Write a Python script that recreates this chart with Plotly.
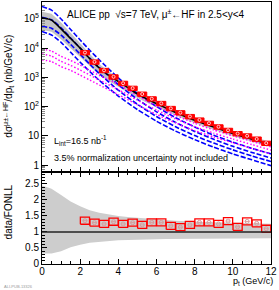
import plotly.graph_objects as go

# ---------------- data ----------------
pt_bins = [2.25, 2.75, 3.25, 3.75, 4.25, 4.75, 5.25, 5.75, 6.25, 6.75,
           7.25, 7.75, 8.25, 8.75, 9.25, 9.75, 10.25, 10.75, 11.25, 11.75]
bin_halfwidth = 0.24
data_xsec = [7079, 3388, 1738, 1047, 631, 427, 269, 186, 129, 87,
             62, 46, 35, 27, 20.4, 15.5, 12.0, 10.0, 7.8, 5.6]
data_syst_rel = [0.17, 0.17, 0.17, 0.17, 0.17, 0.17, 0.17, 0.17, 0.17, 0.17,
                 0.17, 0.17, 0.17, 0.17, 0.17, 0.17, 0.17, 0.17, 0.17, 0.17]
ratio = [1.35, 1.29, 1.25, 1.32, 1.25, 1.29, 1.22, 1.30, 1.30, 1.19,
         1.15, 1.22, 1.30, 1.30, 1.25, 1.34, 1.16, 1.33, 1.27, 1.10]
ratio_syst = [0.11, 0.11, 0.11, 0.11, 0.11, 0.11, 0.11, 0.11, 0.11, 0.11,
              0.11, 0.11, 0.11, 0.11, 0.11, 0.11, 0.11, 0.11, 0.11, 0.11]

pt_fonll = [0, 0.5, 1, 1.5, 2, 2.5, 3, 3.5, 4, 4.5, 5, 5.5, 6, 6.5, 7, 7.5,
            8, 8.5, 9, 9.5, 10, 10.5, 11, 11.5, 12]
fonll_central = [109600, 91200, 45700, 21400, 10000, 4365, 2090, 1175, 724, 447,
                 269, 182, 126, 89, 63, 45.7, 33.9, 25.7, 20.0, 15.5,
                 12.0, 9.55, 7.59, 6.17, 5.01]
fonll_hi = [177800, 151400, 75900, 33900, 14800, 6310, 2880, 1585, 955, 575,
            347, 234, 158, 112, 79.4, 57.5, 41.7, 31.6, 24.5, 19.1,
            14.8, 11.7, 9.33, 7.59, 6.17]
fonll_lo = [41700, 36300, 20000, 10000, 5010, 2400, 1230, 741, 479, 309,
            195, 135, 95.5, 69.2, 50.1, 37.2, 27.5, 20.9, 16.2, 12.6,
            9.77, 7.76, 6.17, 5.01, 4.07]
ratio_band_hi = [2.45, 2.35, 2.15, 1.95, 1.80, 1.68, 1.60, 1.54, 1.50, 1.47,
                 1.44, 1.41, 1.39, 1.37, 1.35, 1.33, 1.32, 1.31, 1.30, 1.29,
                 1.28, 1.27, 1.27, 1.26, 1.26]
ratio_band_lo = [0.33, 0.33, 0.40, 0.52, 0.60, 0.66, 0.70, 0.72, 0.74, 0.75,
                 0.76, 0.77, 0.77, 0.78, 0.78, 0.78, 0.79, 0.79, 0.79, 0.80,
                 0.80, 0.80, 0.80, 0.80, 0.80]

pt_comp = [0, 0.5, 1, 1.5, 2, 2.5, 3, 4, 5, 6, 7, 8, 9, 10, 11, 12]
charm_curves = [
    [269000, 200000, 100000, 43600, 19100, 8510, 3980, 955, 282, 100, 41.7, 20.0, 10.5, 6.03, 3.72, 2.40],
    [115000, 93300, 50100, 22400, 10000, 4570, 2190, 562, 178, 66.1, 28.8, 14.1, 7.59, 4.37, 2.69, 1.74],
    [56200, 47900, 28200, 13500, 6170, 2820, 1350, 363, 120, 45.7, 20.4, 10.2, 5.62, 3.31, 2.04, 1.32],
    [37200, 28200, 15800, 7240, 3310, 1585, 794, 229, 79.4, 31.6, 14.5, 7.41, 4.07, 2.40, 1.51, 0.95],
]
beauty_curves = [
    [9330, 7940, 5250, 3800, 2630, 1740, 1175, 575, 240, 105, 50.1, 26.9, 15.8, 10.0, 6.46, 4.17],
    [6310, 5370, 3550, 2570, 1780, 1200, 813, 380, 166, 75.9, 38.0, 20.4, 12.3, 7.76, 5.01, 3.24],
    [3980, 3470, 2340, 1740, 1200, 813, 550, 257, 115, 53.7, 27.5, 15.1, 9.12, 5.75, 3.72, 2.40],
]

y_tickvals = [1, 10, 100, 1000, 10000, 100000]
y_ticktext = ["1", "10", "10<sup>2</sup>", "10<sup>3</sup>", "10<sup>4</sup>", "10<sup>5</sup>"]

FONT = "Liberation Sans, Arial, sans-serif"

fig = go.Figure()

# ---------------- top panel ----------------
fig.add_trace(go.Scatter(x=pt_fonll + pt_fonll[::-1], y=fonll_hi + fonll_lo[::-1],
                         fill="toself", fillcolor="#c4c4c4", line=dict(width=0),
                         mode="lines", xaxis="x", yaxis="y", hoverinfo="skip"))
for c in charm_curves:
    fig.add_trace(go.Scatter(x=pt_comp, y=c, mode="lines",
                             line=dict(color="#0000ff", width=1.6, dash="5px,2px", shape="spline", smoothing=0.5),
                             xaxis="x", yaxis="y"))
for c in beauty_curves:
    fig.add_trace(go.Scatter(x=pt_comp, y=c, mode="lines",
                             line=dict(color="#ff00ff", width=1.4, dash="1.5px,2px", shape="spline", smoothing=0.5),
                             xaxis="x", yaxis="y"))
fig.add_trace(go.Scatter(x=pt_fonll, y=fonll_central, mode="lines",
                         line=dict(color="black", width=1.6, shape="spline", smoothing=0.5),
                         xaxis="x", yaxis="y"))

bx, by = [], []
for p, v, s in zip(pt_bins, data_xsec, data_syst_rel):
    lo, hi = v * (1 - s), v * (1 + s)
    bx += [p - bin_halfwidth, p + bin_halfwidth, p + bin_halfwidth, p - bin_halfwidth, p - bin_halfwidth, None]
    by += [lo, lo, hi, hi, lo, None]
fig.add_trace(go.Scatter(x=bx, y=by, fill="toself", fillcolor="#ff0000",
                         line=dict(color="#ff0000", width=1), mode="lines",
                         xaxis="x", yaxis="y"))
fig.add_trace(go.Scatter(x=pt_bins, y=data_xsec, mode="markers",
                         marker=dict(symbol="circle-open", size=3, color="#ffd0d0", line=dict(width=1)),
                         xaxis="x", yaxis="y"))

# ---------------- bottom panel ----------------
fig.add_trace(go.Scatter(x=pt_fonll + pt_fonll[::-1], y=ratio_band_hi + ratio_band_lo[::-1],
                         fill="toself", fillcolor="#cdcdcd", line=dict(width=0),
                         mode="lines", xaxis="x2", yaxis="y2", hoverinfo="skip"))
rx, ry = [], []
for p, v, s in zip(pt_bins, ratio, ratio_syst):
    rx += [p - bin_halfwidth, p + bin_halfwidth, p + bin_halfwidth, p - bin_halfwidth, p - bin_halfwidth, None]
    ry += [v - s, v - s, v + s, v + s, v - s, None]
fig.add_trace(go.Scatter(x=rx, y=ry, mode="lines", line=dict(color="#ff0000", width=1.3),
                         xaxis="x2", yaxis="y2"))
fig.add_trace(go.Scatter(x=pt_bins, y=ratio, mode="markers",
                         marker=dict(symbol="circle-open", size=4, color="#d89a9a", line=dict(width=1)),
                         error_x=dict(type="constant", value=0.12, color="#d89a9a", thickness=1, width=0),
                         xaxis="x2", yaxis="y2"))

fig.add_shape(type="line", xref="x2 domain", yref="y2", x0=0, x1=1, y0=1, y1=1,
              line=dict(color="#222222", width=1.6))

axis_common = dict(showgrid=False, zeroline=False, linecolor="black", linewidth=1,
                   ticks="inside", tickcolor="black",
                   tickfont=dict(family=FONT, size=10, color="black"))

split = 0.351
fig.update_layout(
    width=279, height=290,
    margin=dict(l=42, r=8, t=2, b=26),
    paper_bgcolor="white", plot_bgcolor="white",
    showlegend=False,
    hovermode=False,
    xaxis=dict(domain=[0, 1], anchor="y", range=[0, 12], showticklabels=False,
               dtick=2, ticklen=5, mirror=True,
               minor=dict(dtick=0.5, ticklen=3, ticks="inside", tickcolor="black"), **axis_common),
    yaxis=dict(domain=[split, 1], anchor="x", type="log", range=[-0.24, 5.58],
               tickvals=y_tickvals, ticktext=y_ticktext, ticklen=6, mirror=True,
               minor=dict(ticks="inside", ticklen=3, tickcolor="#888888", dtick="D1"), **axis_common),
    xaxis2=dict(domain=[0, 1], anchor="y2", range=[0, 12], dtick=2, ticklen=5, mirror="ticks",
                ticklabelstandoff=-2,
                minor=dict(dtick=0.5, ticklen=3, ticks="inside", tickcolor="black"), **axis_common),
    yaxis2=dict(domain=[0, split], anchor="x2", range=[0, 2.87], dtick=0.5, ticklen=5, mirror=True,
                minor=dict(dtick=0.1, ticklen=3, ticks="inside", tickcolor="black"), **axis_common),
)

fig.add_annotation(xref="paper", yref="paper", x=0.1, y=0.985, xanchor="left", yanchor="top",
                   text="ALICE pp  √s=7 TeV, μ<sup>±</sup>←HF in 2.5<y<4", showarrow=False,
                   font=dict(family=FONT, size=10, color="black"))
fig.add_annotation(xref="paper", yref="paper", x=0.045, y=0.47, xanchor="left", yanchor="middle",
                   text="L<sub>int</sub>=16.5 nb<sup>-1</sup>", showarrow=False,
                   font=dict(family=FONT, size=9, color="black"))
fig.add_annotation(xref="paper", yref="paper", x=0.045, y=0.405, xanchor="left", yanchor="middle",
                   text="3.5% normalization uncertainty not included", showarrow=False,
                   font=dict(family=FONT, size=9, color="black"))
fig.add_annotation(xref="paper", yref="paper", x=-0.145, y=0.68, xanchor="center", yanchor="middle",
                   textangle=-90, text="dσ<sup>μ±←HF</sup>/dp<sub>t</sub> (nb/GeV/c)", showarrow=False,
                   font=dict(family=FONT, size=10, color="black"))
fig.add_annotation(xref="paper", yref="paper", x=-0.145, y=0.2, xanchor="center", yanchor="middle",
                   textangle=-90, text="data/FONLL", showarrow=False,
                   font=dict(family=FONT, size=10, color="black"))
fig.add_annotation(xref="paper", yref="paper", x=1.015, y=-0.092, xanchor="right", yanchor="bottom",
                   text="p<sub>t</sub> (GeV/c)", showarrow=False, borderpad=0,
                   font=dict(family=FONT, size=9, color="black"))
fig.add_annotation(xref="paper", yref="paper", x=-0.17, y=-0.098, xanchor="left", yanchor="bottom",
                   text="ALI-PUB-13326", showarrow=False, borderpad=0,
                   font=dict(family=FONT, size=4, color="#999999"))

fig.write_html("out.html", config={"displayModeBar": False},
               post_script="document.body.style.margin='0px';")
